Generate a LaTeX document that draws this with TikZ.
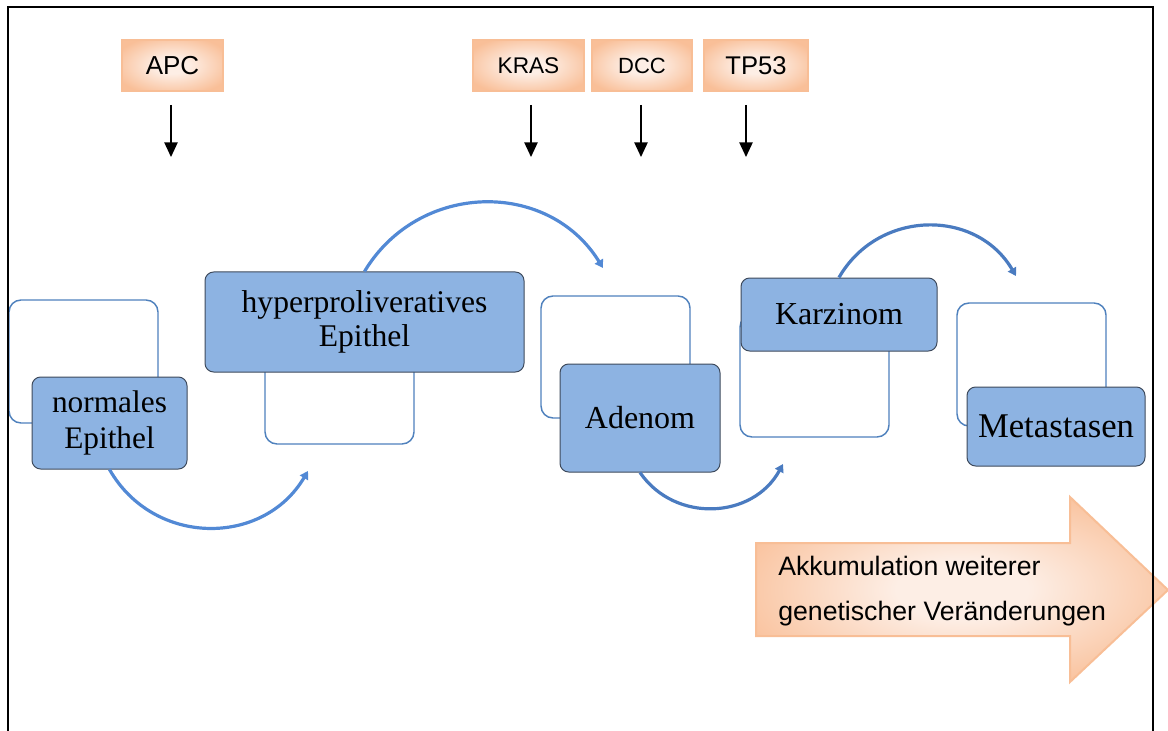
\documentclass[tikz,border=0pt]{standalone}
\usepackage{fontspec}
\setmainfont{Liberation Serif}
\newfontfamily\arialf{Liberation Sans}
\usetikzlibrary{arrows.meta}
\definecolor{boxfill}{HTML}{8DB3E2}
\definecolor{boxdraw}{HTML}{3E4A5C}
\definecolor{outl}{HTML}{4F81BD}
\definecolor{curveA}{HTML}{5289D5}
\definecolor{curveB}{HTML}{4A7BC0}
\definecolor{orline}{HTML}{F8BE96}
\definecolor{orout}{HTML}{F9BF98}
\definecolor{orin}{HTML}{FDEEE5}
\pgfdeclareradialshading{softorange}{\pgfpoint{0bp}{0bp}}{color(0bp)=(orin); color(8bp)=(orin); color(30bp)=(orout); color(50bp)=(orout)}
\tikzset{
  genebox/.style={draw=orline, line width=1.2pt, shading=softorange,
    inner sep=0pt, minimum height=38.25pt, text depth=0pt},
  filledbox/.style={draw=boxdraw, fill=boxfill, line width=0.75pt, rounded corners=6.5pt,
    inner sep=0pt, align=center},
  openbox/.style={draw=outl, fill=white, line width=1.1pt, rounded corners=9pt,
    minimum width=111.75pt, minimum height=92.25pt, inner sep=0pt},
  genearrow/.style={line width=1.1pt, -{Triangle[length=11pt,width=10pt]}},
  stagearrow/.style={line width=2.4pt, -{Triangle[length=6pt,width=7pt]}},
}
\begin{document}
\begin{tikzpicture}[x=0.75pt, y=-0.75pt]
\useasboundingbox (0,0) rectangle (1168,731);

% gene boxes
\node[genebox, minimum width=75.75pt, font={\arialf\fontsize{19.5}{22}\selectfont}] (apc) at (172.5,65.5) {APC};
\node[genebox, minimum width=83.25pt, font={\arialf\fontsize{17}{20}\selectfont}] (kras) at (528.5,65.5) {KRAS};
\node[genebox, minimum width=75pt, font={\arialf\fontsize{16.5}{20}\selectfont}] (dcc) at (642,65.5) {DCC};
\node[genebox, minimum width=78pt, font={\arialf\fontsize{19.2}{22}\selectfont}] (tp) at (756,65.5) {TP53};

% gene arrows
\coordinate (a1s) at (171,105); \coordinate (a1e) at (171,157);
\coordinate (a2s) at (531,105); \coordinate (a2e) at (531,157);
\coordinate (a3s) at (641,105); \coordinate (a3e) at (641,157);
\coordinate (a4s) at (746,105); \coordinate (a4e) at (746,157);
\draw[genearrow] (a1s) -- (a1e);
\draw[genearrow] (a2s) -- (a2e);
\draw[genearrow] (a3s) -- (a3e);
\draw[genearrow] (a4s) -- (a4e);

% open boxes
\node[openbox] (o1) at (83.5,361.5) {};
\node[openbox] (o2) at (339.5,382.5) {};
\node[openbox, minimum height=91.5pt] (o3) at (615.5,357) {};
\node[openbox, minimum height=91.5pt] (o4) at (814.5,376) {};
\node[openbox] (o5) at (1031.5,364.5) {};

% filled boxes
\node[filledbox, minimum width=116.25pt, minimum height=69pt,
  font={\fontsize{23.5}{27}\selectfont}] (nE) at (109.5,423) {normales\\Epithel};
\node[filledbox, minimum width=239.25pt, minimum height=75pt,
  font={\fontsize{23.7}{25}\selectfont}] (hE) at (364.5,322) {hyperproliveratives\\Epithel};
\node[filledbox, minimum width=120pt, minimum height=81pt,
  font={\fontsize{24}{27}\selectfont}] (ad) at (640,418) {Adenom};
\node[filledbox, minimum width=147pt, minimum height=54.75pt,
  font={\fontsize{24}{27}\selectfont}] (ka) at (839,314.5) {Karzinom};
\node[filledbox, minimum width=133.5pt, minimum height=59.25pt,
  font={\fontsize{26}{29}\selectfont}] (me) at (1056,426.5) {Metastasen};

% stage arrows
\coordinate (c1) at (308,471);
\coordinate (c2) at (603,268);
\coordinate (c3) at (783,464);
\coordinate (c4) at (1016,276);
\draw[stagearrow, curveA] (nE.south) .. controls +(44,77) and +(-45,76) .. (c1);
\draw[stagearrow, curveA] (hE.north) .. controls +(54,-90) and +(-55,-89) .. (c2);
\draw[stagearrow, curveB] (ad.south) .. controls +(35,51) and +(-30,55) .. (c3);
\draw[stagearrow, curveB] (ka.north) .. controls +(39,-68) and +(-40,-68) .. (c4);

% big arrow
\draw[draw=orline, line width=1.5pt, shading=softorange]
  (756,543) -- (1070,543) -- (1070,497) -- (1168,590) -- (1070,682) -- (1070,636) -- (756,636) -- cycle;
\node[anchor=base west, inner sep=0pt, font={\arialf\fontsize{20}{24}\selectfont}] (akk1) at (778,575) {Akkumulation weiterer};
\node[anchor=base west, inner sep=0pt, font={\arialf\fontsize{20}{24}\selectfont}] (akk2) at (778,620) {genetischer Veränderungen};

% frame
\draw[line width=1.6pt] (8,731) -- (8,7) -- (1153,7) -- (1153,731);
\end{tikzpicture}
\end{document}
